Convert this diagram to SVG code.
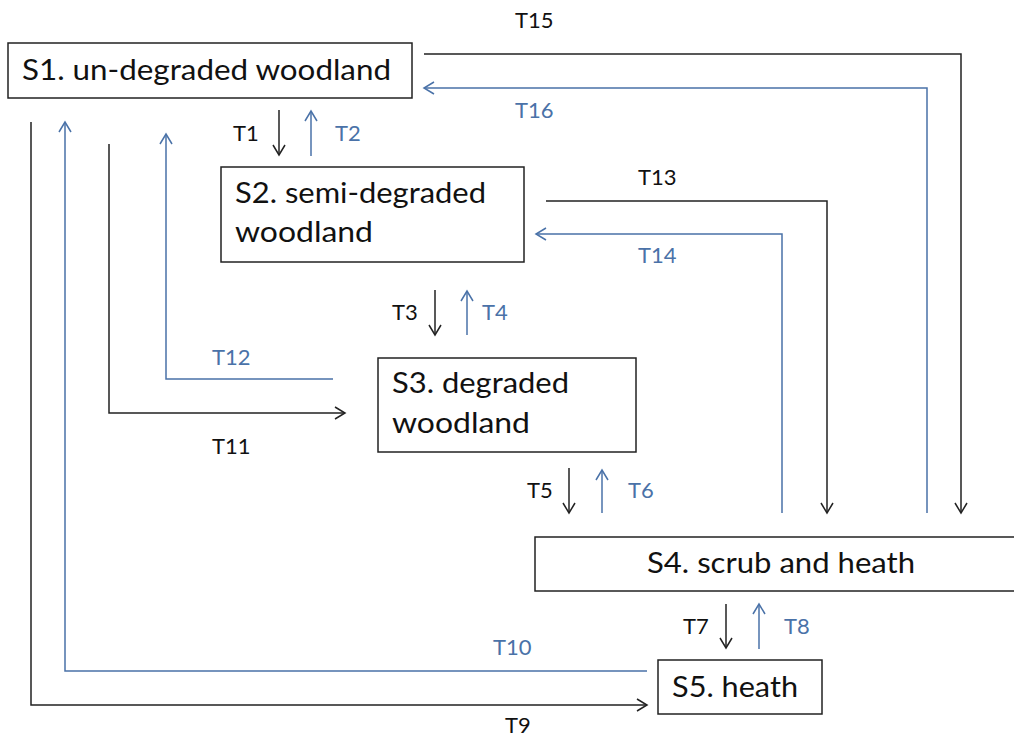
<svg xmlns="http://www.w3.org/2000/svg" width="1014" height="736" viewBox="0 0 1014 736">
<style>
.box{fill:#fff;stroke:#222;stroke-width:1.5}
.nt{font-family:Lato,"Open Sans",sans-serif;font-size:29px;fill:#111}
.lb{font-family:Lato,"Open Sans",sans-serif;font-size:22px;fill:#111}
.lb.b{fill:#4a72a8}
.k{fill:none;stroke:#222;stroke-width:1.5;marker-end:url(#ak)}
.bl{fill:none;stroke:#4a72a8;stroke-width:1.5;marker-end:url(#ab)}
</style>
<defs>
<marker id="ak" markerUnits="userSpaceOnUse" markerWidth="14" markerHeight="16" viewBox="-12 -8 14 16" refX="0" refY="0" orient="auto" overflow="visible">
<path d="M-10,-6 L0,0 L-10,6" fill="none" stroke="#222" stroke-width="1.5"/>
</marker>
<marker id="ab" markerUnits="userSpaceOnUse" markerWidth="14" markerHeight="16" viewBox="-12 -8 14 16" refX="0" refY="0" orient="auto" overflow="visible">
<path d="M-10,-6 L0,0 L-10,6" fill="none" stroke="#4a72a8" stroke-width="1.5"/>
</marker>
</defs>
<rect width="1014" height="736" fill="#fff"/>
<g id="connectors">
<path class="k" d="M424,54 H961 V513"/>
<path class="bl" d="M927,513 V88 H424"/>
<path class="k" d="M546,201 H827 V513"/>
<path class="bl" d="M782,513 V234 H536"/>
<path class="k" d="M279,110 V155"/>
<path class="bl" d="M311,156 V111"/>
<path class="k" d="M435,290 V335"/>
<path class="bl" d="M467,335 V291"/>
<path class="bl" d="M333,379 H166 V134"/>
<path class="k" d="M109,144 V413 H345"/>
<path class="k" d="M569,468 V513"/>
<path class="bl" d="M602,513 V470"/>
<path class="k" d="M726,604 V648"/>
<path class="bl" d="M759,649 V604"/>
<path class="bl" d="M647,671 H65 V122"/>
<path class="k" d="M31,122 V705 H647"/>
<text class="lb" x="515" y="28">T15</text>
<text class="lb b" x="515" y="118">T16</text>
<text class="lb" x="233" y="141">T1</text>
<text class="lb b" x="335" y="141">T2</text>
<text class="lb" x="638" y="185">T13</text>
<text class="lb b" x="638" y="263">T14</text>
<text class="lb" x="392" y="320">T3</text>
<text class="lb b" x="482" y="320">T4</text>
<text class="lb b" x="212" y="365">T12</text>
<text class="lb" x="212" y="454">T11</text>
<text class="lb" x="527" y="498">T5</text>
<text class="lb b" x="628" y="498">T6</text>
<text class="lb" x="683" y="634">T7</text>
<text class="lb b" x="784" y="634">T8</text>
<text class="lb b" x="493" y="655">T10</text>
<text class="lb" x="505" y="733">T9</text>
</g>
<g id="S1">
<rect class="box" x="8" y="43" width="404" height="55"/>
<text class="nt" x="22" y="80" textLength="369" lengthAdjust="spacingAndGlyphs">S1. un-degraded woodland</text>
</g>
<g id="S2">
<rect class="box" x="221" y="167" width="303" height="95"/>
<text class="nt" x="235" y="203" textLength="251" lengthAdjust="spacingAndGlyphs">S2. semi-degraded</text>
<text class="nt" x="235" y="242" textLength="138" lengthAdjust="spacingAndGlyphs">woodland</text>
</g>
<g id="S3">
<rect class="box" x="378" y="358" width="258" height="94"/>
<text class="nt" x="392" y="393" textLength="177" lengthAdjust="spacingAndGlyphs">S3. degraded</text>
<text class="nt" x="392" y="433" textLength="138" lengthAdjust="spacingAndGlyphs">woodland</text>
</g>
<g id="S4">
<rect class="box" x="535" y="537" width="490" height="54"/>
<text class="nt" x="647" y="573" textLength="268" lengthAdjust="spacingAndGlyphs">S4. scrub and heath</text>
</g>
<g id="S5">
<rect class="box" x="658" y="660" width="164" height="54"/>
<text class="nt" x="672" y="697" textLength="126" lengthAdjust="spacingAndGlyphs">S5. heath</text>
</g>
</svg>
